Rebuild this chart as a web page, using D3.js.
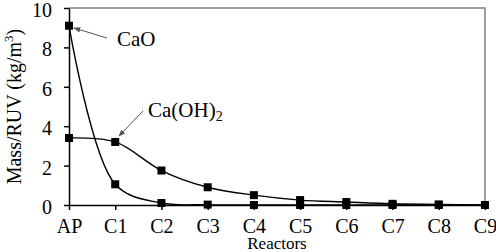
<!DOCTYPE html>
<html><head><meta charset="utf-8">
<script src="https://cdn.jsdelivr.net/npm/d3@7"></script>
<style>html,body{margin:0;padding:0;background:#fff}</style>
</head><body>
<script>
const categories = ["AP","C1","C2","C3","C4","C5","C6","C7","C8","C9"];
const caO = [9.1, 1.05, 0.1, 0.02, 0.0, 0.0, 0.0, 0.0, 0.0, 0.0];
const caOH2 = [3.4, 3.2, 1.75, 0.9, 0.5, 0.25, 0.15, 0.06, 0.03, 0.0];
const yTicks = [0, 2, 4, 6, 8, 10];

const FONT = "Times New Roman";
const W = 496, H = 252;
const m = {left: 69, right: 11, top: 8, bottom: 47};
const svg = d3.select("body").append("svg").attr("width", W).attr("height", H);
const x = d3.scalePoint().domain(categories).range([m.left, W - m.right]);
const y = d3.scaleLinear().domain([0, 10]).range([H - m.bottom, m.top]);

svg.append("path").attr("d", `M${x.range()[0]},${y(10)}H${x.range()[1]}V${y(0)}`)
  .attr("fill","none").attr("stroke","#808080").attr("stroke-width",1.5);

const gy = svg.append("g").attr("transform", `translate(${m.left},0)`)
  .call(d3.axisLeft(y).tickValues(yTicks).tickSize(5).tickPadding(12).tickSizeOuter(0));
const gx = svg.append("g").attr("transform", `translate(0,${y(0)})`)
  .call(d3.axisBottom(x).tickSize(5).tickPadding(9).tickSizeOuter(0));
[gy, gx].forEach(g => {
  g.attr("font-family", null).attr("font-size", null);
  g.selectAll("path,line").attr("stroke","#000").attr("stroke-width",1.5);
  g.selectAll("text").attr("font-size",20).attr("fill","#000");
});
gy.selectAll("text").attr("dy","0.42em");

const line = d3.line().x((d,i)=>x(categories[i])).y(d=>y(d)).curve(d3.curveCatmullRom.alpha(0.5));
[caO, caOH2].forEach(s => {
  svg.append("path").attr("d", line(s)).attr("fill","none").attr("stroke","#000").attr("stroke-width",1.4);
  svg.append("g").selectAll("rect").data(s).join("rect")
    .attr("x",(d,i)=>x(categories[i])-4).attr("y",d=>y(d)-4)
    .attr("width",8).attr("height",8).attr("fill","#000");
});

const defs = svg.append("defs");
defs.append("marker").attr("id","ah").attr("viewBox","0 0 10 10").attr("refX",9).attr("refY",5)
  .attr("markerWidth",7).attr("markerHeight",7).attr("orient","auto")
  .append("path").attr("d","M0,1L10,5L0,9Z").attr("fill","#555");
function annot(text, sub, tx, ty, x1, y1, x2, y2) {
  svg.append("line").attr("x1",x1).attr("y1",y1).attr("x2",x2).attr("y2",y2)
    .attr("stroke","#555").attr("stroke-width",1).attr("marker-end","url(#ah)");
  const t = svg.append("text").attr("x",tx).attr("y",ty).attr("font-size",21).attr("fill","#000").text(text);
  if (sub) t.append("tspan").attr("font-size",14).attr("dy",4).text(sub);
}
annot("CaO", null, 117, 46, 107, 38, 74, 28);
annot("Ca(OH)", "2", 148, 117, 143, 111, 119, 136);

svg.append("text").attr("transform",`translate(21,${(y(0)+y(10))/2}) rotate(-90)`)
  .attr("text-anchor","middle").attr("font-size",20).attr("fill","#000")
  .call(t => { t.append("tspan").text("Mass/RUV (kg/m"); t.append("tspan").attr("font-size",13).attr("dy",-8).text("3");
    t.append("tspan").attr("dy",8).text(")"); });
svg.append("text").attr("x",(x.range()[0]+x.range()[1])/2).attr("y",249)
  .attr("text-anchor","middle").attr("font-size",17).attr("fill","#000").text("Reactors");

svg.selectAll("text, tspan").attr("font-family", FONT);
</script>
</body></html>
